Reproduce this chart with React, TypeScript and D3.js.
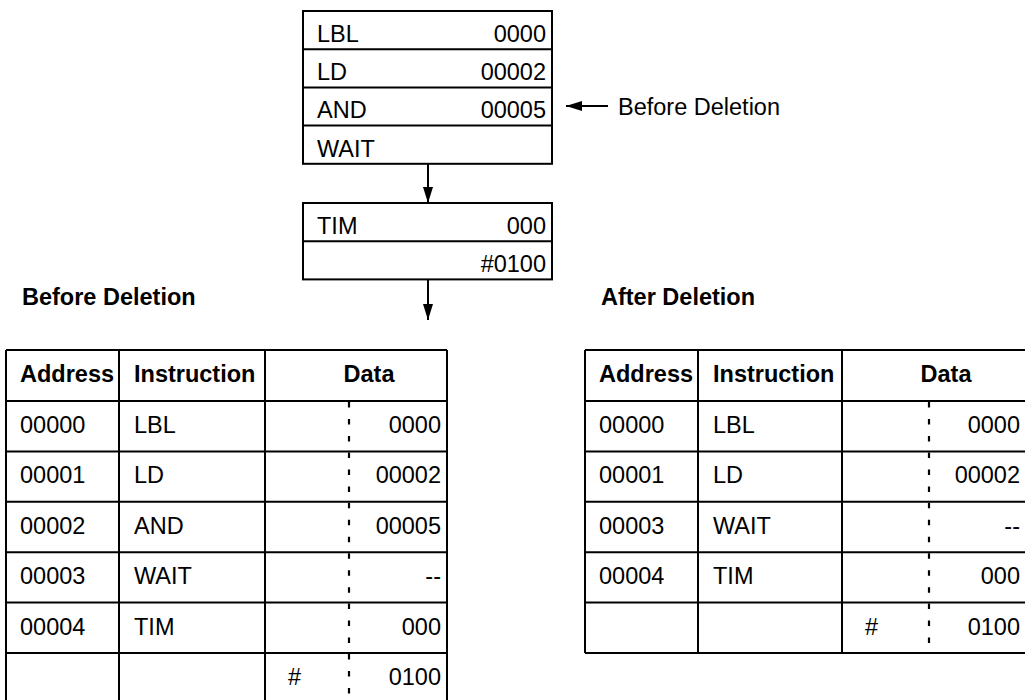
import { useEffect, useRef } from "react";
import * as d3 from "d3";

// flow boxes at the top
const blockAInstr = ["LBL", "LD", "AND", "WAIT"];
const blockAOperand = ["0000", "00002", "00005", ""];
const blockBInstr = ["TIM", ""];
const blockBOperand = ["000", "#0100"];
const pointerLabel = "Before Deletion";

// tables
const headers = ["Address", "Instruction", "Data"];
const beforeTitle = "Before Deletion";
const beforeAddress = ["00000", "00001", "00002", "00003", "00004", ""];
const beforeInstr = ["LBL", "LD", "AND", "WAIT", "TIM", ""];
const beforePrefix = ["", "", "", "", "", "#"];
const beforeData = ["0000", "00002", "00005", "--", "000", "0100"];

const afterTitle = "After Deletion";
const afterAddress = ["00000", "00001", "00003", "00004", ""];
const afterInstr = ["LBL", "LD", "WAIT", "TIM", ""];
const afterPrefix = ["", "", "", "", "#"];
const afterData = ["0000", "00002", "--", "000", "0100"];

const FONT = "'Liberation Sans', Arial, Helvetica, sans-serif";
const FS = 23.5;

const App = () => {
    const ref = useRef<SVGSVGElement>(null);

    useEffect(() => {
        const svg = d3.select(ref.current);
        svg.selectAll("*").remove();
        svg.attr("width", 1025).attr("height", 700);

        const defs = svg.append("defs");
        defs.append("marker")
            .attr("id", "head")
            .attr("viewBox", "0 0 16 10")
            .attr("refX", 16)
            .attr("refY", 5)
            .attr("markerWidth", 16)
            .attr("markerHeight", 10)
            .attr("markerUnits", "userSpaceOnUse")
            .attr("orient", "auto")
            .append("path")
            .attr("d", "M0,0 L16,5 L0,10 Z")
            .attr("fill", "#000");

        const text = (g, x, y, s, anchor = "start", bold = false) => {
            g.append("text")
                .attr("x", x)
                .attr("y", y)
                .attr("text-anchor", anchor)
                .style("font-family", FONT)
                .style("font-size", FS + "px")
                .style("font-weight", bold ? "bold" : "normal")
                .attr("fill", "#000")
                .text(s);
        };

        const arrow = (x1, y1, x2, y2) => {
            svg.append("line")
                .attr("x1", x1).attr("y1", y1)
                .attr("x2", x2).attr("y2", y2)
                .attr("stroke", "#000")
                .attr("stroke-width", 2)
                .attr("marker-end", "url(#head)");
        };

        // stacked instruction boxes
        const boxX = d3.scaleLinear().domain([0, 1]).range([303, 552]);
        const drawBox = (instr, operand, top) => {
            const y = d3.scaleLinear().domain([0, instr.length]).range([top, top + instr.length * 38.2]);
            const g = svg.append("g");
            g.append("rect")
                .attr("x", boxX(0)).attr("y", y(0))
                .attr("width", boxX(1) - boxX(0)).attr("height", y(instr.length) - y(0))
                .attr("fill", "none").attr("stroke", "#000").attr("stroke-width", 2);
            instr.forEach((d, i) => {
                if (i > 0) {
                    g.append("line")
                        .attr("x1", boxX(0)).attr("x2", boxX(1))
                        .attr("y1", y(i)).attr("y2", y(i))
                        .attr("stroke", "#000").attr("stroke-width", 2);
                }
                text(g, boxX(0) + 14, y(i) + 31, d);
                text(g, boxX(1) - 6, y(i) + 31, operand[i], "end");
            });
            return y(instr.length);
        };
        const aBottom = drawBox(blockAInstr, blockAOperand, 11);
        const bTop = 203;
        const bBottom = drawBox(blockBInstr, blockBOperand, bTop);
        const midX = (boxX(0) + boxX(1)) / 2 + 0.5;
        arrow(midX, aBottom, midX, bTop);
        arrow(midX, bBottom, midX, 320);

        // pointer to AND row
        arrow(608, 106, 566, 106);
        text(svg, 618, 115, pointerLabel);

        // tables
        const drawTable = (cols, dashX, title, address, instr, prefix, data) => {
            const g = svg.append("g");
            const top = 350;
            const headH = 51;
            const rowH = 50.4;
            const y = d3.scaleLinear().domain([0, address.length]).range([top + headH, top + headH + address.length * rowH]);
            const bottom = y(address.length);

            text(g, cols[0] + 16, 305, title, "start", true);

            const line = (x1, y1, x2, y2) => g.append("line")
                .attr("x1", x1).attr("y1", y1).attr("x2", x2).attr("y2", y2)
                .attr("stroke", "#000").attr("stroke-width", 2);

            line(cols[0], top, cols[3], top);
            line(cols[0], y(0), cols[3], y(0));
            cols.forEach((c) => line(c, top, c, bottom));

            text(g, cols[0] + 14, top + 32, headers[0], "start", true);
            text(g, cols[1] + 15, top + 32, headers[1], "start", true);
            text(g, cols[2] + 104, top + 32, headers[2], "middle", true);

            address.forEach((a, i) => {
                line(cols[0], y(i + 1), cols[3], y(i + 1));
                g.append("line")
                    .attr("x1", dashX).attr("x2", dashX)
                    .attr("y1", y(i) + 1).attr("y2", y(i + 1))
                    .attr("stroke", "#000").attr("stroke-width", 2.2)
                    .attr("stroke-dasharray", "5.5,11.5");
                text(g, cols[0] + 14, y(i) + 32, a);
                text(g, cols[1] + 15, y(i) + 32, instr[i]);
                text(g, cols[2] + 23, y(i) + 32, prefix[i]);
                text(g, cols[3] - 6, y(i) + 32, data[i], "end");
            });
        };
        drawTable([6, 119, 265, 447], 349, beforeTitle, beforeAddress, beforeInstr, beforePrefix, beforeData);
        drawTable([585, 698, 842, 1026], 929, afterTitle, afterAddress, afterInstr, afterPrefix, afterData);
    }, []);

    return (
        <svg
            ref={ref}
            style={{ position: "absolute", left: 0, top: 0, display: "block", background: "#fff" }}
        />
    );
};
export default App;
